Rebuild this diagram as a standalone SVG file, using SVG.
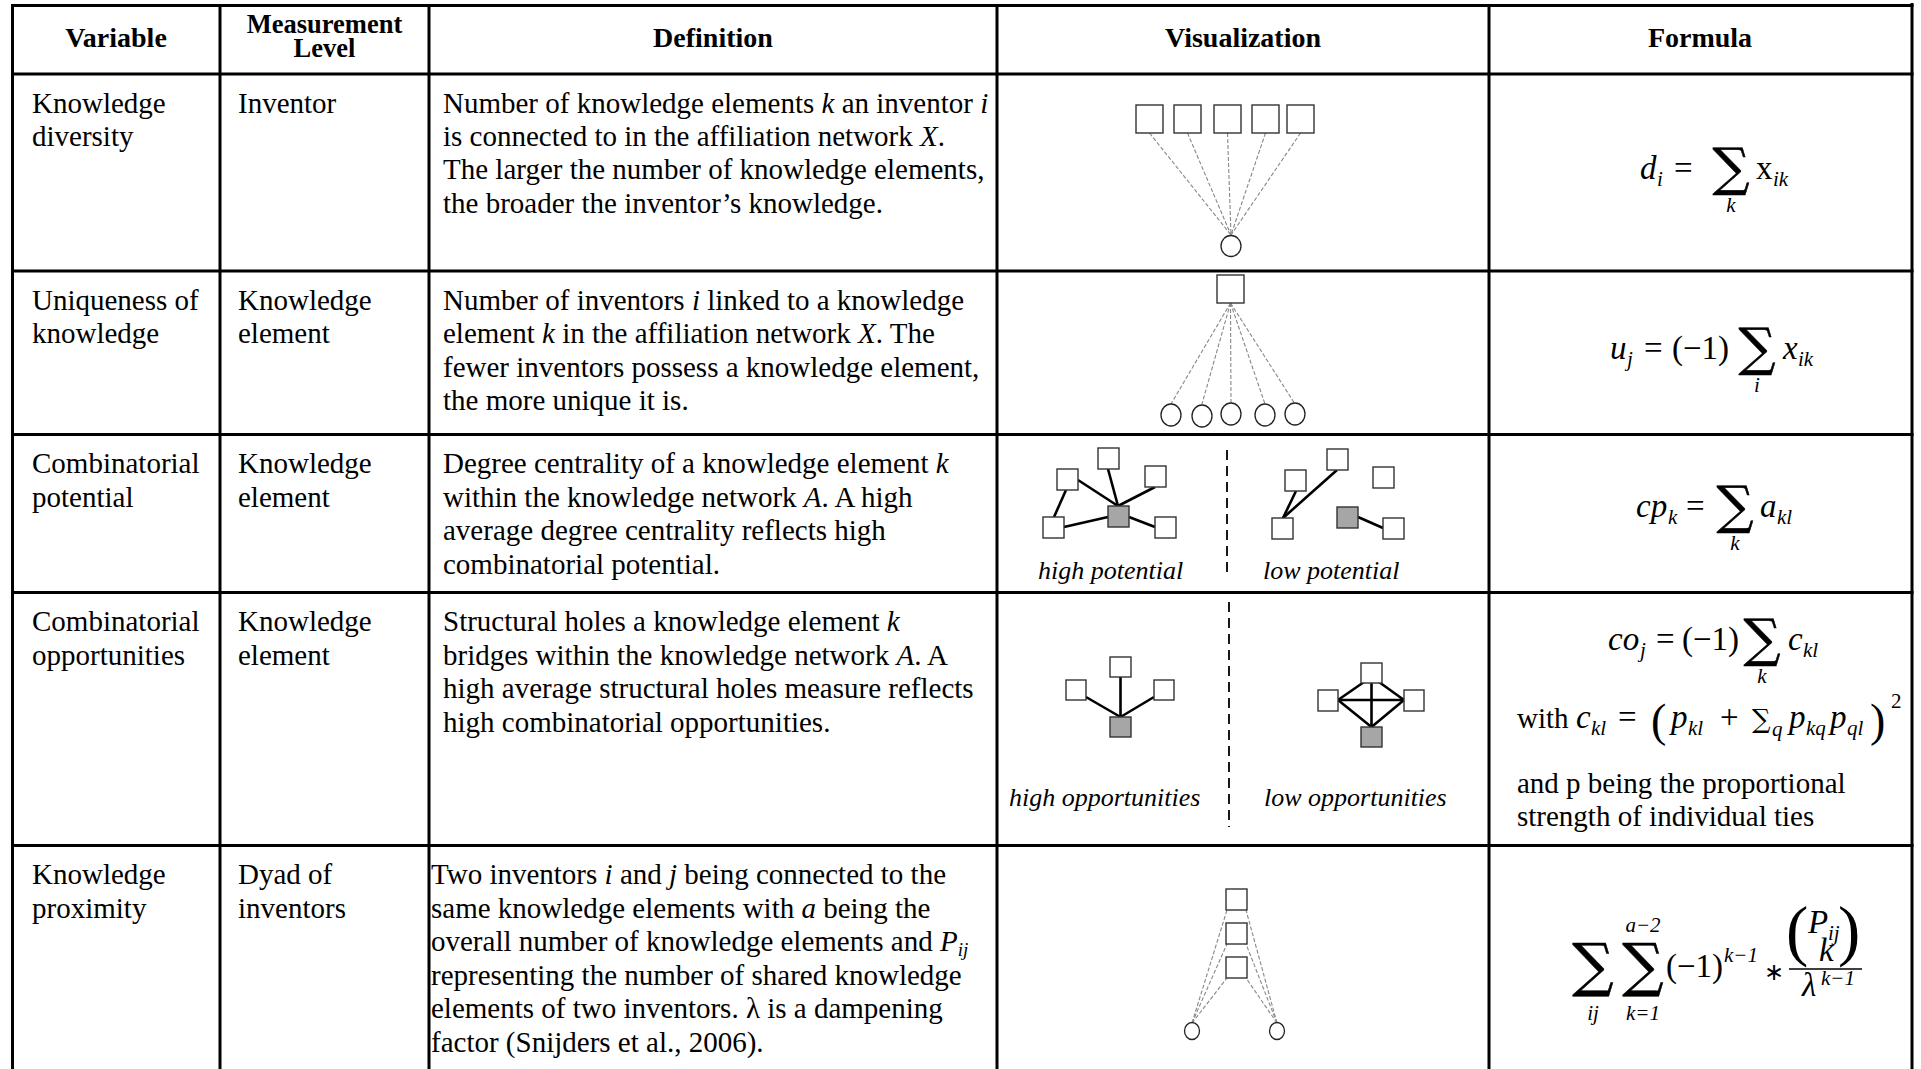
<svg xmlns="http://www.w3.org/2000/svg" width="1921" height="1069" viewBox="0 0 1921 1069">
<style>
.grid{stroke:#000;stroke-width:3;fill:none}
.t{font-family:"Liberation Serif","Times New Roman",serif;font-size:29px;fill:#000}
.h{font-family:"Liberation Serif","Times New Roman",serif;font-weight:bold;font-size:28px;text-anchor:middle;fill:#000}
.h2{font-family:"Liberation Serif","Times New Roman",serif;font-weight:bold;font-size:26.5px;text-anchor:middle;fill:#000}
.i{font-style:italic}
.m{font-family:"Liberation Serif","Times New Roman",serif;font-style:italic;font-size:33px;fill:#000}
.mu{font-family:"Liberation Serif","Times New Roman",serif;font-size:33px;fill:#000}
.s{font-family:"Liberation Serif","Times New Roman",serif;font-style:italic;font-size:21px;fill:#000}
.sc{font-family:"Liberation Serif","Times New Roman",serif;font-style:italic;font-size:21px;fill:#000;text-anchor:middle}
.sig{font-family:"DejaVu Serif",serif;font-size:52px;text-anchor:middle;fill:#000;stroke:#000;stroke-width:0.5}
.sigb{font-family:"DejaVu Serif",serif;font-size:58px;text-anchor:middle;fill:#000;stroke:#000;stroke-width:0.5}
.cap{font-family:"Liberation Serif","Times New Roman",serif;font-style:italic;font-size:26px;fill:#000}
.sq{fill:#fff;stroke:#333;stroke-width:1.4}
.gsq{fill:#a6a6a6;stroke:#333;stroke-width:1.4}
.ci{fill:#fff;stroke:#222;stroke-width:1.3}
.dl{stroke:#888;stroke-width:1.1;stroke-dasharray:4 2;fill:none}
.sl{stroke:#000;stroke-width:2.6;fill:none}
.dv{stroke:#000;stroke-width:1.8;stroke-dasharray:10 6;fill:none}
</style>
<rect width="1921" height="1069" fill="#fff"/>
<g id="table-grid">
<line class="grid" x1="11" y1="5.5" x2="1913.5" y2="5.5"/>
<line class="grid" x1="11" y1="74" x2="1913.5" y2="74"/>
<line class="grid" x1="11" y1="271" x2="1913.5" y2="271"/>
<line class="grid" x1="11" y1="434.5" x2="1913.5" y2="434.5"/>
<line class="grid" x1="11" y1="592.5" x2="1913.5" y2="592.5"/>
<line class="grid" x1="11" y1="845.5" x2="1913.5" y2="845.5"/>
<line class="grid" x1="12.5" y1="4" x2="12.5" y2="1069"/>
<line class="grid" x1="220" y1="4" x2="220" y2="1069"/>
<line class="grid" x1="429" y1="4" x2="429" y2="1069"/>
<line class="grid" x1="997" y1="4" x2="997" y2="1069"/>
<line class="grid" x1="1489" y1="4" x2="1489" y2="1069"/>
<line class="grid" x1="1912" y1="3" x2="1912" y2="1069"/>
</g>
<g id="header">
<text class="h" x="116" y="47">Variable</text>
<text class="h2" x="324.5" y="33">Measurement</text>
<text class="h2" x="324.5" y="57">Level</text>
<text class="h" x="713" y="47">Definition</text>
<text class="h" x="1243" y="47">Visualization</text>
<text class="h" x="1700" y="47">Formula</text>
</g>
<g id="row-knowledge-diversity">
<text class="t" x="32" y="112.7">Knowledge</text>
<text class="t" x="32" y="146">diversity</text>
<text class="t" x="238" y="112.7">Inventor</text>
<text class="t" x="443" y="112.7">Number of knowledge elements <tspan class="i">k</tspan> an inventor <tspan class="i">i</tspan></text>
<text class="t" x="443" y="146">is connected to in the affiliation network <tspan class="i">X</tspan>.</text>
<text class="t" x="443" y="179.3">The larger the number of knowledge elements,</text>
<text class="t" x="443" y="212.7">the broader the inventor’s knowledge.</text>
<g id="vis1">
<g id="vis1-edges">
<line class="dl" x1="1149.5" y1="133" x2="1231" y2="235"/>
<line class="dl" x1="1187.5" y1="133" x2="1231" y2="235"/>
<line class="dl" x1="1227.5" y1="133" x2="1231" y2="235"/>
<line class="dl" x1="1265.5" y1="133" x2="1231" y2="235"/>
<line class="dl" x1="1300.5" y1="133" x2="1231" y2="235"/>
</g>
<rect class="sq" x="1136" y="105" width="27" height="28"/>
<rect class="sq" x="1174" y="105" width="27" height="28"/>
<rect class="sq" x="1214" y="105" width="27" height="28"/>
<rect class="sq" x="1252" y="105" width="27" height="28"/>
<rect class="sq" x="1287" y="105" width="27" height="28"/>
<ellipse class="ci" cx="1231" cy="246" rx="10" ry="10.5"/>
</g>
<g id="formula1">
<text class="m" x="1640" y="179">d</text>
<text class="s" x="1657" y="186">i</text>
<text class="mu" x="1674" y="179">=</text>
<text class="sig" x="1731" y="185">∑</text>
<text class="sc" x="1731" y="212">k</text>
<text class="mu" x="1756" y="179">x</text>
<text class="s" x="1773" y="186">ik</text>
</g>
</g>
<g id="row-uniqueness">
<text class="t" x="32" y="309.5">Uniqueness of</text>
<text class="t" x="32" y="343">knowledge</text>
<text class="t" x="238" y="309.5">Knowledge</text>
<text class="t" x="238" y="343">element</text>
<text class="t" x="443" y="309.5">Number of inventors <tspan class="i">i</tspan> linked to a knowledge</text>
<text class="t" x="443" y="343">element <tspan class="i">k</tspan> in the affiliation network <tspan class="i">X</tspan>. The</text>
<text class="t" x="443" y="376.5">fewer inventors possess a knowledge element,</text>
<text class="t" x="443" y="410">the more unique it is.</text>
<g id="vis2">
<g id="vis2-edges">
<line class="dl" x1="1230.5" y1="303" x2="1171" y2="404"/>
<line class="dl" x1="1230.5" y1="303" x2="1202" y2="404"/>
<line class="dl" x1="1230.5" y1="303" x2="1231" y2="404"/>
<line class="dl" x1="1230.5" y1="303" x2="1265" y2="404"/>
<line class="dl" x1="1230.5" y1="303" x2="1295" y2="404"/>
</g>
<rect class="sq" x="1217" y="275" width="27" height="28"/>
<ellipse class="ci" cx="1171" cy="415" rx="10" ry="11"/>
<ellipse class="ci" cx="1202" cy="416" rx="10" ry="11"/>
<ellipse class="ci" cx="1231" cy="414" rx="10" ry="11"/>
<ellipse class="ci" cx="1265" cy="415" rx="10" ry="11"/>
<ellipse class="ci" cx="1295" cy="414" rx="10" ry="11"/>
</g>
<g id="formula2">
<text class="m" x="1610" y="359">u</text>
<text class="s" x="1627" y="366">j</text>
<text class="mu" x="1644" y="359">=</text>
<text class="mu" x="1672" y="359">(−1)</text>
<text class="sig" x="1757" y="365">∑</text>
<text class="sc" x="1757" y="392">i</text>
<text class="m" x="1783" y="359">x</text>
<text class="s" x="1798" y="366">ik</text>
</g>
</g>
<g id="row-comb-potential">
<text class="t" x="32" y="473">Combinatorial</text>
<text class="t" x="32" y="506.5">potential</text>
<text class="t" x="238" y="473">Knowledge</text>
<text class="t" x="238" y="506.5">element</text>
<text class="t" x="443" y="473">Degree centrality of a knowledge element <tspan class="i">k</tspan></text>
<text class="t" x="443" y="506.5">within the knowledge network <tspan class="i">A</tspan>. A high</text>
<text class="t" x="443" y="540">average degree centrality reflects high</text>
<text class="t" x="443" y="573.5">combinatorial potential.</text>
<g id="vis3">
<g id="vis3-edges">
<line class="sl" x1="1054" y1="517" x2="1066" y2="490"/>
<line class="sl" x1="1064" y1="527" x2="1108" y2="517"/>
<line class="sl" x1="1118" y1="506" x2="1078" y2="480"/>
<line class="sl" x1="1118" y1="506" x2="1108" y2="469"/>
<line class="sl" x1="1118" y1="506" x2="1155" y2="487"/>
<line class="sl" x1="1129" y1="517" x2="1155" y2="527"/>
<line class="sl" x1="1283" y1="518" x2="1296" y2="491"/>
<line class="sl" x1="1283" y1="518" x2="1337" y2="470"/>
<line class="sl" x1="1358" y1="517" x2="1383" y2="528"/>
</g>
<rect class="sq" x="1098" y="448" width="21" height="21"/>
<rect class="sq" x="1057" y="469" width="21" height="21"/>
<rect class="sq" x="1145" y="466" width="21" height="21"/>
<rect class="gsq" x="1108" y="506" width="21" height="21"/>
<rect class="sq" x="1043" y="517" width="21" height="21"/>
<rect class="sq" x="1155" y="517" width="21" height="21"/>
<line class="dv" x1="1227" y1="450" x2="1227" y2="573"/>
<rect class="sq" x="1285" y="470" width="21" height="21"/>
<rect class="sq" x="1327" y="449" width="21" height="21"/>
<rect class="sq" x="1373" y="467" width="21" height="21"/>
<rect class="gsq" x="1337" y="507" width="21" height="21"/>
<rect class="sq" x="1272" y="518" width="21" height="21"/>
<rect class="sq" x="1383" y="518" width="21" height="21"/>
<text class="cap" x="1038" y="579">high potential</text>
<text class="cap" x="1263" y="579">low potential</text>
</g>
<g id="formula3">
<text class="m" x="1636" y="517">cp</text>
<text class="s" x="1668" y="524">k</text>
<text class="mu" x="1686" y="517">=</text>
<text class="sig" x="1735" y="523">∑</text>
<text class="sc" x="1735" y="550">k</text>
<text class="m" x="1760" y="517">a</text>
<text class="s" x="1777" y="524">kl</text>
</g>
</g>
<g id="row-comb-opportunities">
<text class="t" x="32" y="631">Combinatorial</text>
<text class="t" x="32" y="664.5">opportunities</text>
<text class="t" x="238" y="631">Knowledge</text>
<text class="t" x="238" y="664.5">element</text>
<text class="t" x="443" y="631">Structural holes a knowledge element <tspan class="i">k</tspan></text>
<text class="t" x="443" y="664.5">bridges within the knowledge network <tspan class="i">A</tspan>. A</text>
<text class="t" x="443" y="698">high average structural holes measure reflects</text>
<text class="t" x="443" y="731.5">high combinatorial opportunities.</text>
<g id="vis4">
<g id="vis4-edges">
<line class="sl" x1="1120.5" y1="717" x2="1120.5" y2="677"/>
<line class="sl" x1="1120.5" y1="717" x2="1086" y2="697"/>
<line class="sl" x1="1120.5" y1="717" x2="1154" y2="697"/>
<line class="sl" x1="1371.5" y1="683" x2="1371.5" y2="727"/>
<line class="sl" x1="1338" y1="700" x2="1404" y2="700"/>
<line class="sl" x1="1364" y1="682" x2="1338" y2="700"/>
<line class="sl" x1="1379" y1="682" x2="1404" y2="700"/>
<line class="sl" x1="1338" y1="700" x2="1371.5" y2="727"/>
<line class="sl" x1="1404" y1="700" x2="1371.5" y2="727"/>
</g>
<rect class="sq" x="1110" y="657" width="21" height="20"/>
<rect class="sq" x="1066" y="680" width="20" height="20"/>
<rect class="sq" x="1154" y="680" width="20" height="20"/>
<rect class="gsq" x="1110" y="717" width="21" height="20"/>
<line class="dv" x1="1229" y1="602" x2="1229" y2="827"/>
<rect class="sq" x="1361" y="663" width="21" height="20"/>
<rect class="sq" x="1318" y="690" width="20" height="21"/>
<rect class="sq" x="1404" y="690" width="20" height="21"/>
<rect class="gsq" x="1361" y="727" width="21" height="20"/>
<text class="cap" x="1009" y="806">high opportunities</text>
<text class="cap" x="1264" y="806">low opportunities</text>
</g>
<g id="formula4">
<text class="m" x="1608" y="650">co</text>
<text class="s" x="1640" y="657">j</text>
<text class="mu" x="1656" y="650">=</text>
<text class="mu" x="1682" y="650">(−1)</text>
<text class="sig" x="1762" y="656">∑</text>
<text class="sc" x="1762" y="683">k</text>
<text class="m" x="1788" y="650">c</text>
<text class="s" x="1803" y="657">kl</text>
<text class="t" x="1517" y="728">with</text>
<text class="m" x="1576" y="728">c</text>
<text class="s" x="1591" y="735">kl</text>
<text class="mu" x="1618" y="728">=</text>
<text class="mu" x="1651" y="736" style="font-size:46px">(</text>
<text class="m" x="1671" y="728">p</text>
<text class="s" x="1688" y="735">kl</text>
<text class="mu" x="1720" y="728">+</text>
<text class="mu" x="1752" y="728" style="font-family:'DejaVu Serif',serif;font-size:26px">∑</text>
<text class="s" x="1772" y="736">q</text>
<text class="m" x="1789" y="728">p</text>
<text class="s" x="1806" y="735">kq</text>
<text class="m" x="1830" y="728">p</text>
<text class="s" x="1847" y="735">ql</text>
<text class="mu" x="1870" y="736" style="font-size:46px">)</text>
<text class="mu" x="1891" y="708" style="font-size:21px">2</text>
<text class="t" x="1517" y="793">and p being the proportional</text>
<text class="t" x="1517" y="826">strength of individual ties</text>
</g>
</g>
<g id="row-knowledge-proximity">
<text class="t" x="32" y="884">Knowledge</text>
<text class="t" x="32" y="917.5">proximity</text>
<text class="t" x="238" y="884">Dyad of</text>
<text class="t" x="238" y="917.5">inventors</text>
<text class="t" x="431" y="884">Two inventors <tspan class="i">i</tspan> and <tspan class="i">j</tspan> being connected to the</text>
<text class="t" x="431" y="917.5">same knowledge elements with <tspan class="i">a</tspan> being the</text>
<text class="t" x="431" y="951">overall number of knowledge elements and <tspan class="i">P</tspan><tspan class="i" font-size="19" dy="5">ij</tspan></text>
<text class="t" x="431" y="984.5">representing the number of shared knowledge</text>
<text class="t" x="431" y="1018">elements of two inventors. λ is a dampening</text>
<text class="t" x="431" y="1051.5">factor (Snijders et al., 2006).</text>
<g id="vis5">
<g id="vis5-edges">
<line class="dl" x1="1192" y1="1023" x2="1227" y2="910"/>
<line class="dl" x1="1192" y1="1023" x2="1227" y2="944"/>
<line class="dl" x1="1192" y1="1023" x2="1227" y2="978"/>
<line class="dl" x1="1277" y1="1023" x2="1246" y2="910"/>
<line class="dl" x1="1277" y1="1023" x2="1246" y2="944"/>
<line class="dl" x1="1277" y1="1023" x2="1246" y2="978"/>
</g>
<rect class="sq" x="1226" y="889" width="21" height="21"/>
<rect class="sq" x="1226" y="923" width="21" height="21"/>
<rect class="sq" x="1226" y="957" width="21" height="21"/>
<ellipse class="ci" cx="1192" cy="1031" rx="7.5" ry="8.5"/>
<ellipse class="ci" cx="1277" cy="1031" rx="7.5" ry="8.5"/>
</g>
<g id="formula5">
<text class="sigb" x="1593" y="985">∑</text>
<text class="sc" x="1593" y="1020">ij</text>
<text class="sigb" x="1643" y="985">∑</text>
<text class="sc" x="1643" y="932">a−2</text>
<text class="sc" x="1643" y="1020">k=1</text>
<text class="mu" x="1666" y="977">(−1)</text>
<text class="s" x="1724" y="962">k−1</text>
<text class="mu" x="1764" y="980" style="font-size:24px">∗</text>
<text class="mu" x="1786" y="953" style="font-size:67px">(</text>
<text class="m" x="1808" y="933">P</text>
<text class="s" x="1828" y="940">ij</text>
<text class="m" x="1819" y="961">k</text>
<text class="mu" x="1838" y="953" style="font-size:67px">)</text>
<line x1="1789" y1="969" x2="1862" y2="969" stroke="#000" stroke-width="1.5"/>
<text class="m" x="1802" y="996">λ</text>
<text class="s" x="1821" y="985">k−1</text>
</g>
</g>
</svg>
